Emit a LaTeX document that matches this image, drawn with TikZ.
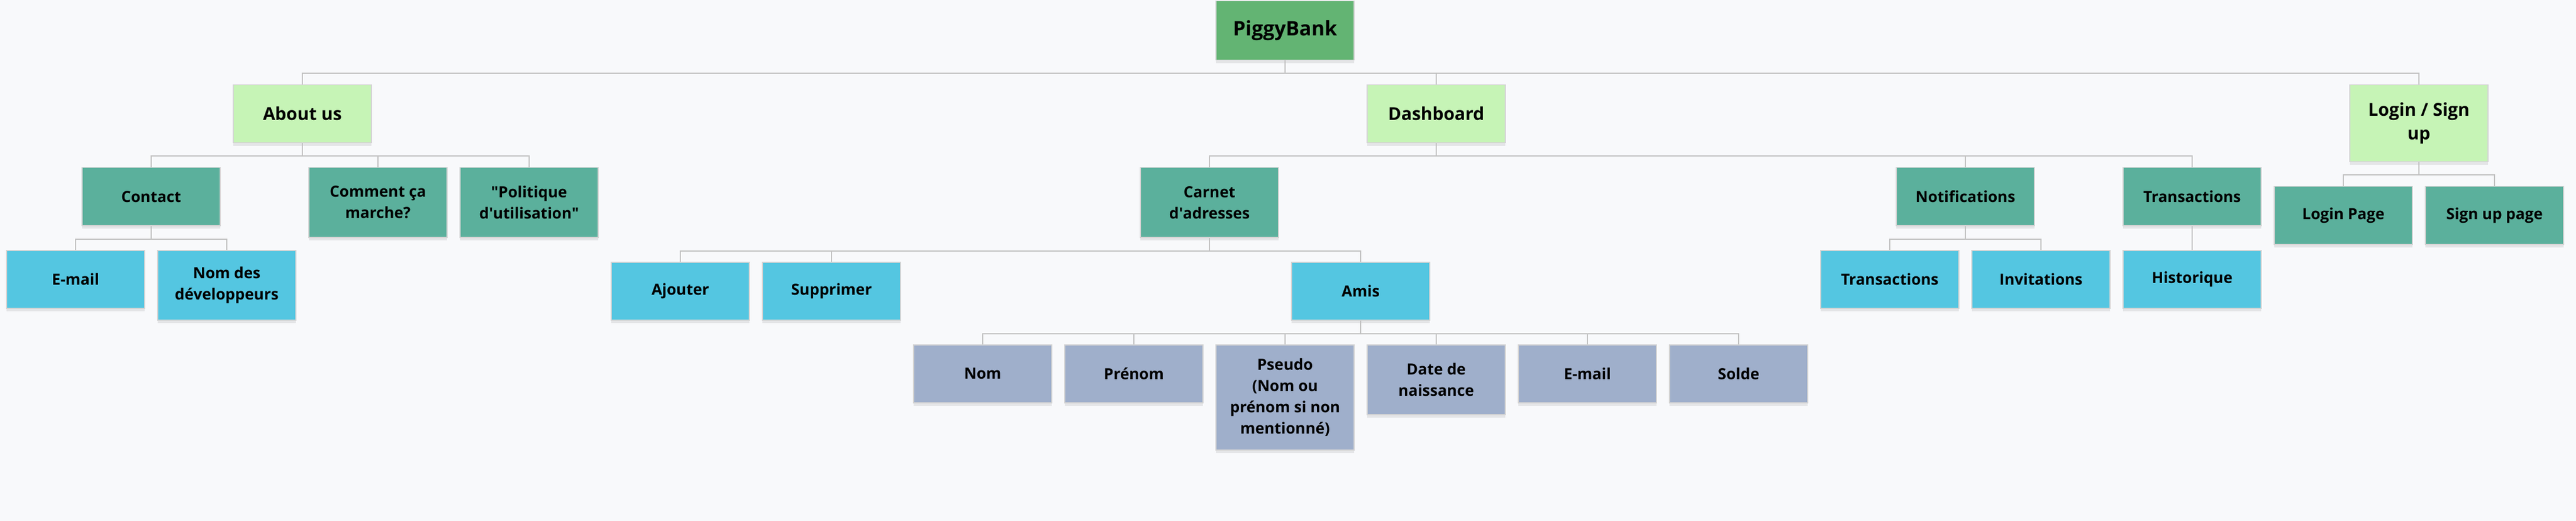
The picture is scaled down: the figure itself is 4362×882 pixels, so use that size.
\documentclass[tikz,border=0pt]{standalone}
\usepackage{fontspec}
\setmainfont{Open Sans}
\usetikzlibrary{shadows}

\definecolor{pagebg}{HTML}{F8F9FB}
\definecolor{rootgreen}{HTML}{63B473}
\definecolor{catgreen}{HTML}{C6F4B6}
\definecolor{subteal}{HTML}{5BB09C}
\definecolor{leafblue}{HTML}{54C6E1}
\definecolor{fieldgrey}{HTML}{9FAFCB}
\definecolor{linkgrey}{HTML}{C2C2C2}

\begin{document}
\begin{tikzpicture}
        [x=1pt, y=-1pt,
        box/.style={draw=black!17, line width=1.5pt, anchor=north,
          minimum width=234pt, minimum height=98pt, inner sep=0pt, align=center,
          font=\bfseries\fontsize{26}{36}\selectfont,
          drop shadow={shadow xshift=0pt, shadow yshift=-5pt, opacity=.08, fill=black}},
        tall/.style={minimum height=118pt},
        root/.style={box, fill=rootgreen, minimum height=100pt,
          font=\bfseries\fontsize{34}{40}\selectfont},
        cat/.style={box, fill=catgreen, font=\bfseries\fontsize{30}{40}\selectfont},
        sub/.style={box, fill=subteal},
        leaf/.style={box, fill=leafblue},
        field/.style={box, fill=fieldgrey},
        link/.style={draw=linkgrey, line width=2pt}]

    \fill[pagebg] (0,0) rectangle (4362,882);
    \useasboundingbox (0,0) rectangle (4362,882);

    % top
    \node[root] (piggy) at (2176,1) {PiggyBank};

    % first level
    \node[cat] (about) at (512,143) {About us};
    \node[cat] (dash) at (2432,143) {Dashboard};
    \node[cat, minimum height=130pt] (login) at (4096,143) {Login / Sign\\up};

    % About us
    \node[sub] (contact) at (256,283) {Contact};
    \node[sub, tall] (comment) at (640,283) {Comment ça\\marche?};
    \node[sub, tall] (politique) at (896,283)
      {\textquotedbl Politique\\d\textquotesingle utilisation\textquotedbl};
    \node[leaf] (mail) at (128,423) {E-mail};
    \node[leaf, tall] (devs) at (384,423) {Nom des\\développeurs};

    % Dashboard
    \node[sub, tall] (carnet) at (2048,283) {Carnet\\d\textquotesingle adresses};
    \node[sub] (notif) at (3328,283) {Notifications};
    \node[sub] (trans) at (3712,283) {Transactions};
    \node[leaf] (ajouter) at (1152,443) {Ajouter};
    \node[leaf] (suppr) at (1408,443) {Supprimer};
    \node[leaf] (amis) at (2304,443) {Amis};
    \node[leaf] (ntrans) at (3200,423) {Transactions};
    \node[leaf] (invit) at (3456,423) {Invitations};
    \node[leaf] (histo) at (3712,423) {Historique};

    \foreach \name/\x/\h/\txt in {nom/1664/98/Nom, prenom/1920/98/Prénom,
        pseudo/2176/178/{Pseudo\\(Nom ou\\prénom si non\\mentionné)},
        date/2432/118/{Date de\\naissance}, amail/2688/98/E-mail, solde/2944/98/Solde}
      \node[field, minimum height=\h pt] (\name) at (\x,583) {\txt};

    % Login / Sign up
    \node[sub] (lpage) at (3968,315) {Login Page};
    \node[sub] (spage) at (4224,315) {Sign up page};

    % links
    \foreach \c in {about,dash,login}
      \draw[link] (piggy.south) -- ++(0,22) -| (\c.north);
    \foreach \c in {contact,comment,politique}
      \draw[link] (about.south) -- ++(0,22) -| (\c.north);
    \foreach \c in {mail,devs}
      \draw[link] (contact.south) -- ++(0,22) -| (\c.north);
    \foreach \c in {carnet,notif,trans}
      \draw[link] (dash.south) -- ++(0,22) -| (\c.north);
    \foreach \c in {ajouter,suppr,amis}
      \draw[link] (carnet.south) -- ++(0,22) -| (\c.north);
    \foreach \c in {nom,prenom,pseudo,date,amail,solde}
      \draw[link] (amis.south) -- ++(0,22) -| (\c.north);
    \foreach \c in {ntrans,invit}
      \draw[link] (notif.south) -- ++(0,22) -| (\c.north);
    \draw[link] (trans.south) -- (histo.north);
    \foreach \c in {lpage,spage}
      \draw[link] (login.south) -- ++(0,22) -| (\c.north);
\end{tikzpicture}
\end{document}
